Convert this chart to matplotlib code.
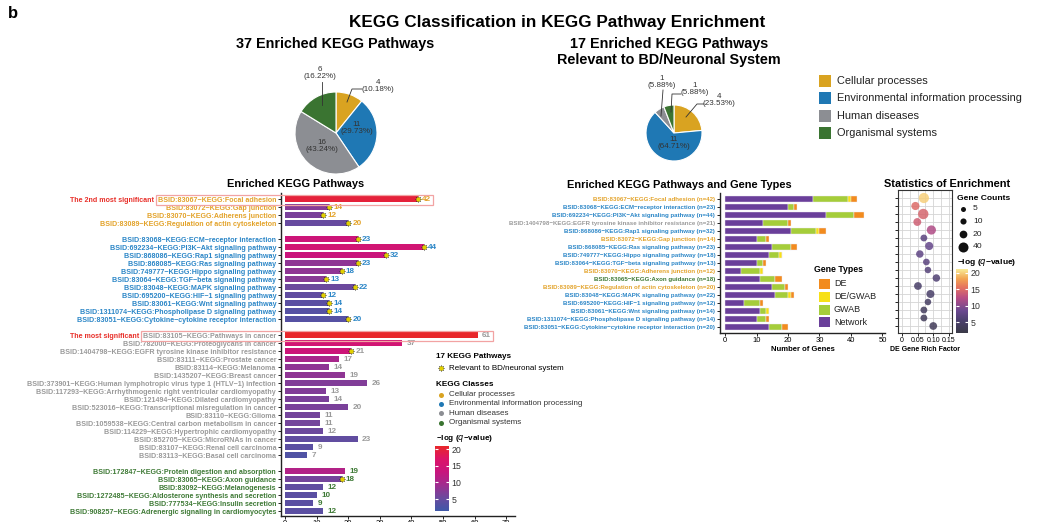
import matplotlib
matplotlib.use('Agg')
import matplotlib.pyplot as plt
import matplotlib.colors as mcolors
import matplotlib.cm as cm
from matplotlib.patches import Rectangle
import numpy as np

plt.rcParams['font.family'] = ['Liberation Sans', 'DejaVu Sans']

W, H = 1057, 522

# ---------------- data ----------------
class_names = ['Cellular processes', 'Environmental information processing',
               'Human diseases', 'Organismal systems']
class_keys = ['C', 'E', 'H', 'O']
pie_all = [4, 11, 16, 6]
pie_all_pct = ['10.18%', '29.73%', '43.24%', '16.22%']
pie_bd = [4, 11, 1, 1]
pie_bd_pct = ['23.53%', '64.71%', '5.88%', '5.88%']

left_terms = [
    'BSID:83067−KEGG:Focal adhesion', 'BSID:83072−KEGG:Gap junction',
    'BSID:83070−KEGG:Adherens junction', 'BSID:83089−KEGG:Regulation of actin cytoskeleton',
    'BSID:83068−KEGG:ECM−receptor interaction', 'BSID:692234−KEGG:PI3K−Akt signaling pathway',
    'BSID:868086−KEGG:Rap1 signaling pathway', 'BSID:868085−KEGG:Ras signaling pathway',
    'BSID:749777−KEGG:Hippo signaling pathway', 'BSID:83064−KEGG:TGF−beta signaling pathway',
    'BSID:83048−KEGG:MAPK signaling pathway', 'BSID:695200−KEGG:HIF−1 signaling pathway',
    'BSID:83061−KEGG:Wnt signaling pathway', 'BSID:1311074−KEGG:Phospholipase D signaling pathway',
    'BSID:83051−KEGG:Cytokine−cytokine receptor interaction',
    'BSID:83105−KEGG:Pathways in cancer', 'BSID:782000−KEGG:Proteoglycans in cancer',
    'BSID:1404798−KEGG:EGFR tyrosine kinase inhibitor resistance',
    'BSID:83111−KEGG:Prostate cancer', 'BSID:83114−KEGG:Melanoma',
    'BSID:1435207−KEGG:Breast cancer',
    'BSID:373901−KEGG:Human lymphotropic virus type 1 (HTLV−1) infection',
    'BSID:117293−KEGG:Arrhythmogenic right ventricular cardiomyopathy',
    'BSID:121494−KEGG:Dilated cardiomyopathy',
    'BSID:523016−KEGG:Transcriptional misregulation in cancer',
    'BSID:83110−KEGG:Glioma', 'BSID:1059538−KEGG:Central carbon metabolism in cancer',
    'BSID:114229−KEGG:Hypertrophic cardiomyopathy', 'BSID:852705−KEGG:MicroRNAs in cancer',
    'BSID:83107−KEGG:Renal cell carcinoma', 'BSID:83113−KEGG:Basal cell carcinoma',
    'BSID:172847−KEGG:Protein digestion and absorption', 'BSID:83065−KEGG:Axon guidance',
    'BSID:83092−KEGG:Melanogenesis', 'BSID:1272485−KEGG:Aldosterone synthesis and secretion',
    'BSID:777534−KEGG:Insulin secretion', 'BSID:908257−KEGG:Adrenergic signaling in cardiomyocytes',
]
left_cls = ['C'] * 4 + ['E'] * 11 + ['H'] * 16 + ['O'] * 6
left_count = [42, 14, 12, 20,
              23, 44, 32, 23, 18, 13, 22, 12, 14, 14, 20,
              61, 37, 21, 17, 14, 19, 26, 13, 14, 20, 11, 11, 12, 23, 9, 7,
              19, 18, 12, 10, 9, 12]
left_q = [20, 7.5, 6.5, 5,
          14, 15, 13.5, 8, 8, 7.5, 5.5, 4.5, 4, 3.5, 3.5,
          21, 15, 14, 10, 8, 8, 7, 7, 6.5, 6.5, 6, 6, 5.5, 4.5, 4, 3,
          11, 6, 4.5, 4, 4, 4]
left_bd = [1] * 15 + [0, 0, 1] + [0] * 13 + [0, 1, 0, 0, 0, 0]

right_terms = [
    'BSID:83067−KEGG:Focal adhesion', 'BSID:83068−KEGG:ECM−receptor interaction',
    'BSID:692234−KEGG:PI3K−Akt signaling pathway',
    'BSID:1404798−KEGG:EGFR tyrosine kinase inhibitor resistance',
    'BSID:868086−KEGG:Rap1 signaling pathway', 'BSID:83072−KEGG:Gap junction',
    'BSID:868085−KEGG:Ras signaling pathway', 'BSID:749777−KEGG:Hippo signaling pathway',
    'BSID:83064−KEGG:TGF−beta signaling pathway', 'BSID:83070−KEGG:Adherens junction',
    'BSID:83065−KEGG:Axon guidance', 'BSID:83089−KEGG:Regulation of actin cytoskeleton',
    'BSID:83048−KEGG:MAPK signaling pathway', 'BSID:695200−KEGG:HIF−1 signaling pathway',
    'BSID:83061−KEGG:Wnt signaling pathway', 'BSID:1311074−KEGG:Phospholipase D signaling pathway',
    'BSID:83051−KEGG:Cytokine−cytokine receptor interaction',
]
right_cls = ['C', 'E', 'E', 'H', 'E', 'C', 'E', 'E', 'E', 'C', 'O', 'C', 'E', 'E', 'E', 'E', 'E']
gene_types = ['Network', 'GWAB', 'DE/GWAB', 'DE']
n_network = [28, 20, 32, 12, 21, 10, 15, 14, 10, 5, 11, 15, 16, 6, 11, 10, 14]
n_gwab = [11, 2, 9, 8, 8, 3, 6, 3, 2, 6, 5, 4, 4, 5, 2, 3, 4]
n_degwab = [1, 0, 0, 0, 1, 0, 0, 1, 0, 1, 0, 0, 1, 0, 1, 0, 0]
n_de = [2, 1, 3, 1, 2, 1, 2, 0, 1, 0, 2, 1, 1, 1, 0, 1, 2]
rich_factor = [0.070, 0.043, 0.068, 0.049, 0.094, 0.070, 0.087, 0.057, 0.078,
               0.083, 0.110, 0.051, 0.091, 0.083, 0.070, 0.070, 0.100]
right_q = [20, 15, 14.5, 14, 12, 7, 8, 7.5, 7, 6.5, 6, 5, 5, 4.5, 4, 3.5, 3.5]
size_keys = [5, 10, 20, 40]

# ---------------- styles ----------------
CLS_FILL = {'C': '#D9A321', 'E': '#1F78B4', 'H': '#8C8E93', 'O': '#3A7431'}
CLS_TEXT = {'C': '#E3A32A', 'E': '#2B86C7', 'H': '#9A9A9A', 'O': '#3F7A36'}
GT_COL = {'Network': '#6A3F9A', 'GWAB': '#A5CD3A', 'DE/GWAB': '#F7E017', 'DE': '#F28B1E'}
DARK = '#222222'

bar_cmap = mcolors.LinearSegmentedColormap.from_list(
    'bq', ['#3F58A8', '#6A4A9E', '#A02C8F', '#C8157D', '#DC1468', '#E8262A'])
bar_norm = mcolors.Normalize(1.4, 21)
dot_cmap = mcolors.LinearSegmentedColormap.from_list(
    'dq', [(0, '#3A3A48'), (0.2, '#4B3F6E'), (0.35, '#6A4890'), (0.55, '#B84C85'),
           (0.72, '#E6745F'), (0.85, '#F2A452'), (1, '#F8EA95')])
dot_norm = mcolors.Normalize(1.7, 21.2)


def box(x0, y0, w, h):
    return [x0 / W, 1 - (y0 + h) / H, w / W, h / H]


def dot_s(n):
    d = 2.26 + 1.225 * np.sqrt(n)   # pixel diameter
    return (d * 0.72) ** 2


fig = plt.figure(figsize=(W / 100, H / 100), dpi=100, facecolor='white')

# ---------------- pies ----------------
def draw_pie(cx, cy, r, vals):
    ax = fig.add_axes(box(cx - r, cy - r, 2 * r, 2 * r))
    ax.pie(vals, colors=[CLS_FILL[k] for k in class_keys], startangle=90,
           counterclock=False, radius=1,
           wedgeprops=dict(edgecolor='white', linewidth=0.8))
    ax.set_xlim(-1, 1)
    ax.set_ylim(-1, 1)
    ax.set_aspect('equal')
    ax.axis('off')

draw_pie(336, 133, 41, pie_all)
draw_pie(674, 133, 28, pie_bd)

# ---------------- left bar chart ----------------
rows = []
r, prev = 0, None
for c in left_cls:
    if prev is not None and c != prev:
        r += 1
    rows.append(r)
    r += 1
    prev = c
rows = np.array(rows)

ax1 = fig.add_axes(box(281, 193, 234, 323))
ax1.barh(rows, left_count, height=0.68, color=bar_cmap(bar_norm(left_q)), zorder=2)
ax1.set_ylim(rows.max() + 0.6, -0.75)
ax1.set_xlim(-1.27, 72.8)
ax1.set_yticks(rows)
ax1.set_yticklabels(left_terms)
for lab, c in zip(ax1.get_yticklabels(), left_cls):
    lab.set_color(CLS_TEXT[c])
    lab.set_fontweight('bold')
ax1.tick_params(axis='y', labelsize=5.1, length=2, width=0.6, pad=1.5)
ax1.set_xticks(np.arange(0, 71, 10))
ax1.tick_params(axis='x', labelsize=5.5, length=2, width=0.6, pad=1.0)
for s in ['top', 'right']:
    ax1.spines[s].set_visible(False)
for s in ['left', 'bottom']:
    ax1.spines[s].set_linewidth(1.0)
    ax1.spines[s].set_color(DARK)

val_texts = []
for y, v, c, st in zip(rows, left_count, left_cls, left_bd):
    if st:
        ax1.scatter(v, y, marker=(8, 1, 0), s=28, color='#2a2a2a', zorder=4, linewidths=0)
        ax1.scatter(v, y, marker='o', s=10, color='#E2D000', zorder=5, linewidths=0)
        t = ax1.text(v + 1.3, y, str(v), va='center', ha='left', fontsize=5.9,
                     fontweight='bold', color=CLS_TEXT[c])
    else:
        t = ax1.text(v + 1.4, y, str(v), va='center', ha='left', fontsize=5.9,
                     fontweight='bold', color=CLS_TEXT[c])
    val_texts.append(t)

# ---------------- middle stacked bars ----------------
rrows = np.arange(len(right_terms))
ax2 = fig.add_axes(box(720, 193, 165, 140))
left = np.zeros(len(rrows))
for g, vals in zip(gene_types, [n_network, n_gwab, n_degwab, n_de]):
    ax2.barh(rrows, vals, left=left, height=0.72, color=GT_COL[g],
             edgecolor='#EEE8F5', linewidth=0.3, zorder=2)
    left += np.array(vals)
totals = left.astype(int)
ax2.set_ylim(16.75, -0.75)
ax2.set_xlim(-1.59, 50.8)
ax2.set_yticks(rrows)
ax2.set_yticklabels([f'{t} (n={n})' for t, n in zip(right_terms, totals)])
for lab, c in zip(ax2.get_yticklabels(), right_cls):
    lab.set_color(CLS_TEXT[c])
    lab.set_fontweight('bold')
ax2.tick_params(axis='y', labelsize=4.4, length=2, width=0.6, pad=1.5)
ax2.set_xticks(np.arange(0, 51, 10))
ax2.tick_params(axis='x', labelsize=5.5, length=2, width=0.6, pad=1.2)
ax2.set_xlabel('Number of Genes', fontsize=5.5, fontweight='bold', labelpad=1)
for s in ['top', 'right']:
    ax2.spines[s].set_visible(False)
for s in ['left', 'bottom']:
    ax2.spines[s].set_linewidth(1.0)
    ax2.spines[s].set_color(DARK)

# ---------------- dot plot ----------------
ax3 = fig.add_axes(box(898, 190, 54, 143))
ax3.scatter(rich_factor, rrows, s=[dot_s(n) for n in totals],
            c=right_q, cmap=dot_cmap, norm=dot_norm, alpha=0.85,
            linewidths=0, zorder=3)
ax3.set_xlim(-0.0128, 0.160)
ax3.set_ylim(16.875, -1.0)
ax3.set_yticks(rrows)
ax3.set_yticklabels([])
ax3.set_xticks([0, 0.05, 0.10, 0.15])
ax3.set_xticklabels(['0', '0.05', '0.10', '0.15'])
ax3.set_xticks([0.025, 0.075, 0.125], minor=True)
ax3.tick_params(axis='x', which='minor', length=0)
ax3.grid(True, which='both', color='#D5D5D5', linewidth=0.6)
ax3.set_axisbelow(True)
ax3.tick_params(axis='both', labelsize=5, length=2, width=0.6, pad=1.2)
ax3.set_xlabel('DE Gene Rich Factor', fontsize=5, fontweight='bold', labelpad=1)
for s in ax3.spines.values():
    s.set_color('#333333')
    s.set_linewidth(0.8)

# ---------------- colorbars ----------------
def colorbar(x0, y0, w, h, cmap, norm):
    cax = fig.add_axes(box(x0, y0, w, h))
    cb = fig.colorbar(cm.ScalarMappable(norm=norm, cmap=cmap), cax=cax)
    cb.outline.set_visible(False)
    cb.set_ticks([5, 10, 15, 20])
    cax.tick_params(axis='y', direction='in', color='white', length=2.5, width=0.8,
                    left=True, right=True, labelsize=6.3, labelcolor='#333333', pad=2)
    return cax

colorbar(435, 446, 14, 65, bar_cmap, bar_norm)
colorbar(956, 269, 12, 64, dot_cmap, dot_norm)

# ---------------- overlay text / legends ----------------
ax_o = fig.add_axes([0, 0, 1, 1], zorder=10)
ax_o.set_xlim(0, W)
ax_o.set_ylim(H, 0)
ax_o.axis('off')

ax_o.text(8, 13, 'b', fontsize=12, fontweight='bold', va='center', ha='left')
ax_o.text(557, 22, 'KEGG Classification in KEGG Pathway Enrichment', fontsize=12.3,
          fontweight='bold', ha='center', va='center')
ax_o.text(335, 44, '37 Enriched KEGG Pathways', fontsize=10.4, fontweight='bold',
          ha='center', va='center')
ax_o.text(669, 44, '17 Enriched KEGG Pathways', fontsize=10.4, fontweight='bold',
          ha='center', va='center')
ax_o.text(669, 60, 'Relevant to BD/Neuronal System', fontsize=10.4, fontweight='bold',
          ha='center', va='center')
ax_o.text(296, 184, 'Enriched KEGG Pathways', fontsize=7.9, fontweight='bold',
          ha='center', va='center')
ax_o.text(679, 185, 'Enriched KEGG Pathways and Gene Types', fontsize=7.9,
          fontweight='bold', ha='center', va='center')
ax_o.text(947, 184, 'Statistics of Enrichment', fontsize=7.9, fontweight='bold',
          ha='center', va='center')

# pie labels
PIE_FS = 5.8
def pie_label(x, y, n, pct):
    ax_o.text(x, y, f'{n}\n({pct})', fontsize=PIE_FS, ha='center', va='center',
              color='#333333', linespacing=1.0)

def leader(xs, ys):
    ax_o.plot(xs, ys, color='#333333', lw=0.6)

pie_label(378, 86, pie_all[0], pie_all_pct[0])
leader([362, 352, 347], [89, 89, 102])
pie_label(357, 128, pie_all[1], pie_all_pct[1])
pie_label(322, 146, pie_all[2], pie_all_pct[2])
pie_label(320, 73, pie_all[3], pie_all_pct[3])
leader([322, 322], [82, 105])

pie_label(719, 100, pie_bd[0], pie_bd_pct[0])
leader([704, 697, 686], [104, 104, 117])
pie_label(674, 143, pie_bd[1], pie_bd_pct[1])
pie_label(662, 82, pie_bd[2], pie_bd_pct[2])
leader([663, 661], [90, 116])
pie_label(695, 89, pie_bd[3], pie_bd_pct[3])
leader([681, 672, 671], [94, 94, 112])

# pie legend
for i, (k, name) in enumerate(zip(class_keys, class_names)):
    y = 81 + i * 17.3
    ax_o.add_patch(Rectangle((819, y - 6), 12, 12, facecolor=CLS_FILL[k],
                             edgecolor='none'))
    ax_o.text(837, y, name, fontsize=7.9, va='center', ha='left', color='#222222')

# left chart legend
ax_o.text(436, 356, '17 KEGG Pathways', fontsize=5.9, fontweight='bold', va='center')
ax_o.scatter(441, 368, marker=(8, 1, 0), s=28, color='#2a2a2a', linewidths=0)
ax_o.scatter(441, 368, marker='o', s=10, color='#E2D000', linewidths=0)
ax_o.text(449, 368, 'Relevant to BD/neuronal system', fontsize=5.8, va='center')
ax_o.text(436, 384, 'KEGG Classes', fontsize=5.9, fontweight='bold', va='center')
for i, (k, name) in enumerate(zip(class_keys, class_names)):
    y = 394.5 + i * 9.4
    ax_o.scatter(441, y, s=13, color=CLS_FILL[k], linewidths=0)
    ax_o.text(449, y, name, fontsize=5.8, va='center', color='#333333')
ax_o.text(436, 439, '−log ($\\mathit{q}$−value)', fontsize=5.9, fontweight='bold',
          va='center')

# gene type legend
ax_o.text(814, 270, 'Gene Types', fontsize=6.3, fontweight='bold', va='center')
for i, g in enumerate(['DE', 'DE/GWAB', 'GWAB', 'Network']):
    y = 284 + i * 12.8
    ax_o.add_patch(Rectangle((819, y - 5), 11, 10, facecolor=GT_COL[g],
                             edgecolor='none'))
    ax_o.text(834, y, g, fontsize=6.5, va='center', color='#222222')

# gene counts legend
ax_o.text(957, 198, 'Gene Counts', fontsize=6.1, fontweight='bold', va='center')
for i, n in enumerate(size_keys):
    y = 208.5 + i * 12.8
    ax_o.scatter(963, y, s=dot_s(n), color='#111111', linewidths=0)
    ax_o.text(973, y, str(n), fontsize=6.1, va='center', color='#222222')
ax_o.text(957, 262, '−log ($\\mathit{q}$−value)', fontsize=6.1, fontweight='bold',
          va='center')

# highlight boxes for the two most significant pathways
fig.canvas.draw()
renderer = fig.canvas.get_renderer()
order = np.argsort(left_q)[::-1]
tick_labels = ax1.get_yticklabels()
for rank, tag in zip(order[:2], ['The most significant', 'The 2nd most significant']):
    lb = tick_labels[rank].get_window_extent(renderer)
    vb = val_texts[rank].get_window_extent(renderer)
    x0 = lb.x0 - 2
    x1 = vb.x1 + 2
    yc = H - (lb.y0 + lb.y1) / 2
    ax_o.add_patch(Rectangle((x0, yc - 5), x1 - x0, 10, facecolor='none',
                             edgecolor='#F2A3A3', linewidth=0.9))
    ax_o.text(x0 - 2, yc, tag, fontsize=5.1, fontweight='bold', color='#E8302A',
              ha='right', va='center')

fig.savefig('out.png', dpi=100, facecolor='white')
